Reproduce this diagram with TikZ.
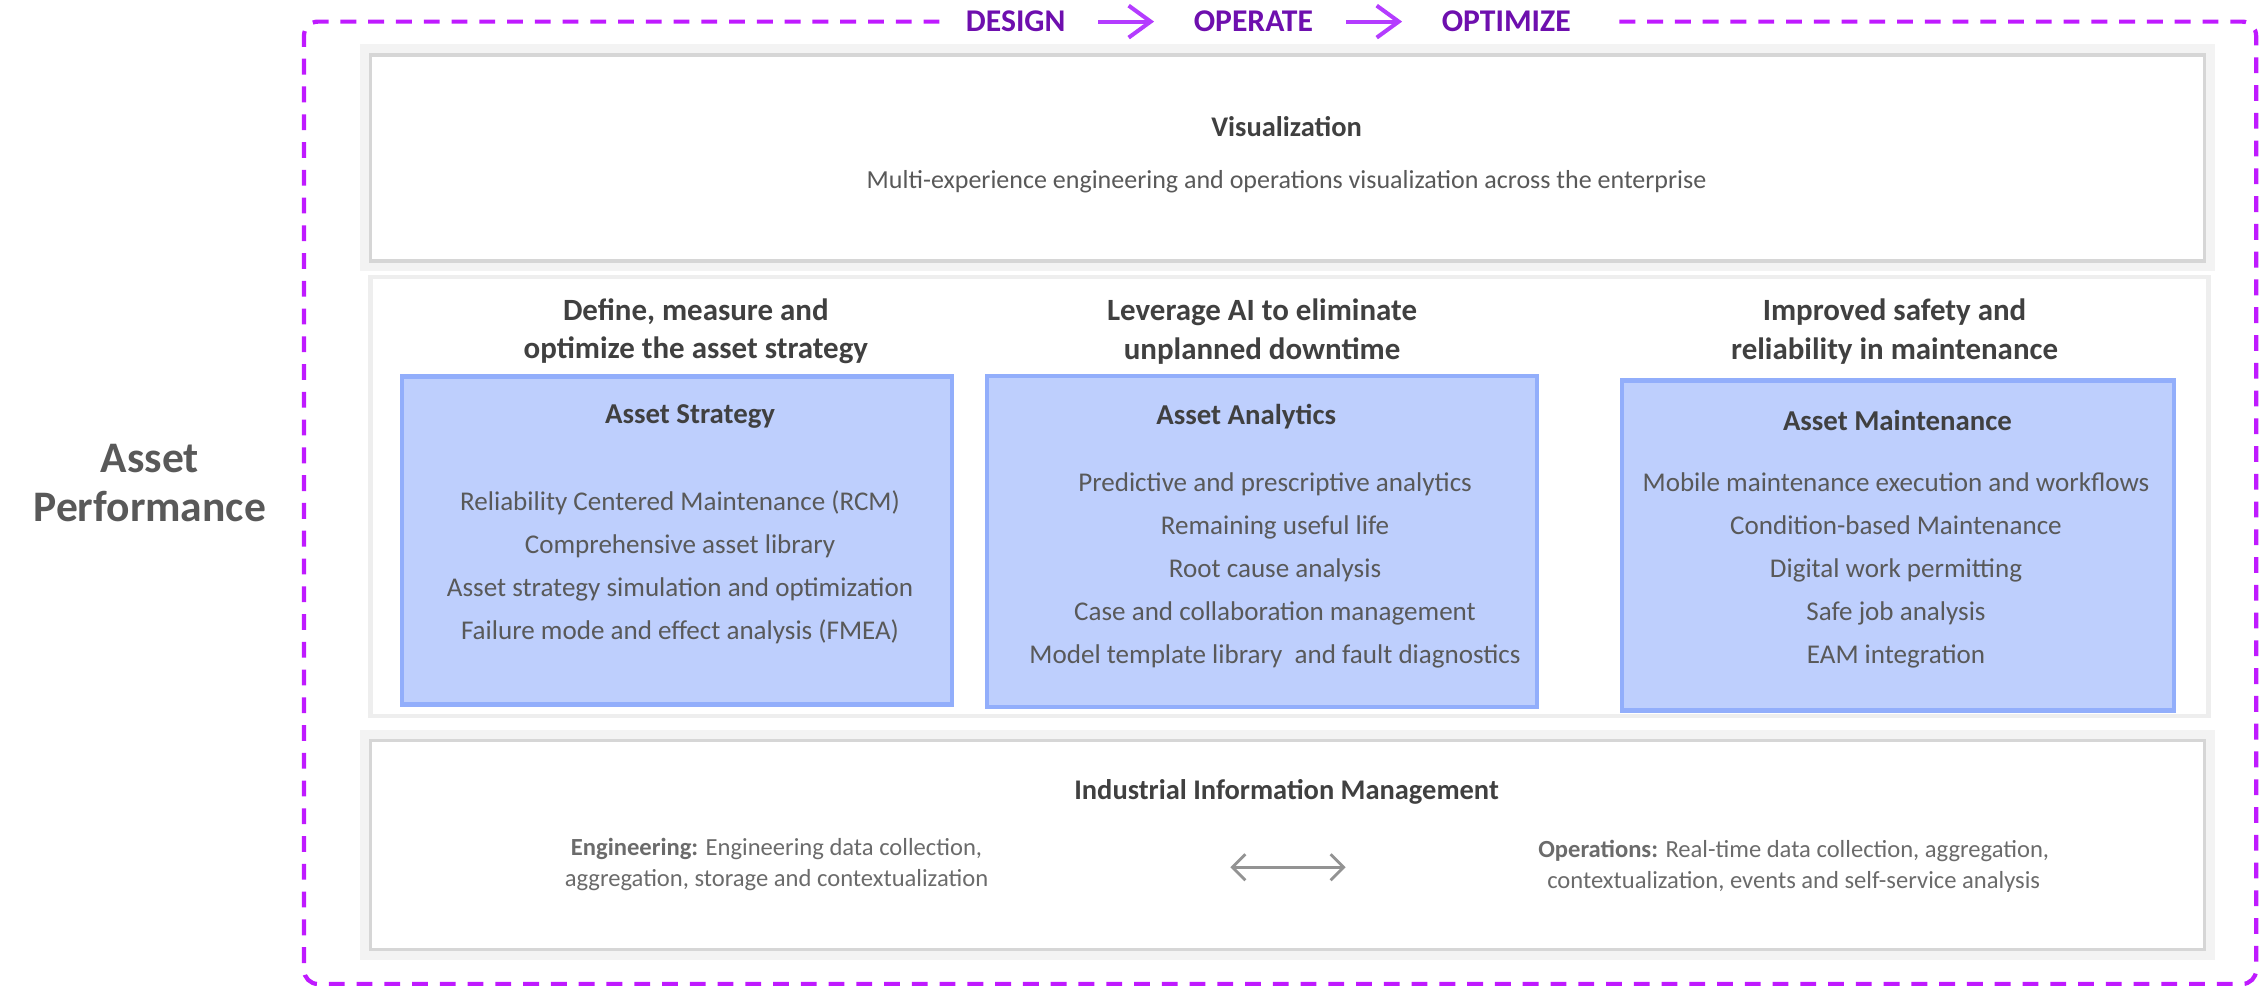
\documentclass[tikz,border=0pt]{standalone}
\usepackage{fontspec}
\setmainfont{Carlito}
\usetikzlibrary{arrows.meta}
\definecolor{framevio}{HTML}{BF1AFF}
\definecolor{flowtext}{HTML}{6E0FAE}
\definecolor{flowarr}{HTML}{B43CFF}
\definecolor{boxgray}{HTML}{D6D6D6}
\definecolor{glowgray}{HTML}{F3F3F3}
\definecolor{panelgray}{HTML}{EEEEEE}
\definecolor{bluefill}{HTML}{BECFFD}
\definecolor{blueline}{HTML}{92AEFB}
\definecolor{darktext}{HTML}{404040}
\definecolor{bodytext}{HTML}{595959}
\definecolor{softtext}{HTML}{6B6B6B}
\tikzset{>={Straight Barb[length=2.2mm,width=3.2mm]}}

\begin{document}
\begin{tikzpicture}[x=0.14407mm, y=-0.14407mm,
    frame/.style={draw=framevio, line width=1.2pt, dash pattern=on 4.5pt off 3.4pt, rounded corners=4pt},
    flow/.style={font=\fontsize{9}{10}\selectfont\bfseries, text=flowtext, inner sep=0pt},
    flowarrow/.style={->, draw=flowarr, line width=1.15pt, shorten <=3.2mm, shorten >=3.9mm},
    panel/.style={draw=boxgray, line width=1pt, fill=white, preaction={draw=glowgray, line width=6pt}},
    midpanel/.style={draw=panelgray, line width=1.2pt, fill=white},
    bluebox/.style={draw=blueline, line width=1.3pt, fill=bluefill},
    heading/.style={font=\fontsize{8.8}{11}\selectfont\bfseries, text=darktext, align=center, inner sep=0pt},
    boxtitle/.style={font=\fontsize{8.2}{10}\selectfont\bfseries, text=darktext, inner sep=0pt},
    items/.style={font=\fontsize{7.7}{12.25}\selectfont, text=bodytext, align=center, inner sep=0pt},
    iimtext/.style={font=\fontsize{7}{8.8}\selectfont, text=softtext, align=center, inner sep=0pt},
    iimarrow/.style={>={Straight Barb[length=1.3mm,width=2.6mm]}, <->, draw=gray!85, line width=0.8pt}]
    \useasboundingbox (0,0) rectangle (1568,683.7);

    % outer dashed frame, open at the top for the title
    \draw[frame] (652,15) -- (211,15) -- (211,683) -- (1566,683) -- (1566,15) -- (1117,15);
    \node[flow] (design) at (705,15) {DESIGN};
    \node[flow] (operate) at (870,15) {OPERATE};
    \node[flow] (optimize) at (1045.5,15) {OPTIMIZE};
    \draw[flowarrow] (design) -- (operate);
    \draw[flowarrow] (operate) -- (optimize);

    \node[font=\fontsize{12.4}{13.9}\selectfont\bfseries, text=bodytext, align=center, inner sep=0pt]
        (ap) at (104,335) {Asset\\Performance};

    % top layer
    \node[panel, minimum width=183.4mm, minimum height=20.6mm] (vis) at (893.5,109.5) {};
    \node[font=\fontsize{8.1}{10}\selectfont\bfseries, text=darktext, inner sep=0pt] (vistitle) at (893,88) {Visualization};
    \node[font=\fontsize{7.4}{8}\selectfont, text=bodytext, inner sep=0pt] (vissub) at (893,126)
        {Multi-experience engineering and operations visualization across the enterprise};

    % middle layer
    \node[midpanel, minimum width=183.8mm, minimum height=43.9mm] (mid) at (895,344.5) {};
    \node[heading] (h1) at (483,230) {Define, measure and\\optimize the asset strategy};
    \node[heading] (h2) at (876,230) {Leverage AI to eliminate\\unplanned downtime};
    \node[heading] (h3) at (1315,230) {Improved safety and\\reliability in maintenance};

    \node[bluebox, minimum width=55mm, minimum height=32.8mm] (strat) at (470,375) {};
    \node[bluebox, minimum width=55mm, minimum height=33.1mm] (ana) at (876,376) {};
    \node[bluebox, minimum width=55.2mm, minimum height=33mm] (maint) at (1317.5,378.5) {};

    \node[boxtitle] (strattitle) at (479,289) {Asset Strategy};
    \node[boxtitle] (anatitle) at (865,289) {Asset Analytics};
    \node[boxtitle] (mainttitle) at (1317,292) {Asset Maintenance};

    \node[items] (stratlist) at (472,394) {Reliability Centered Maintenance (RCM)\\
        Comprehensive asset library\\Asset strategy simulation and optimization\\
        Failure mode and effect analysis (FMEA)};
    \node[items] (analist) at (885,396) {Predictive and prescriptive analytics\\
        Remaining useful life\\Root cause analysis\\Case and collaboration management\\
        Model template library~ and fault diagnostics};
    \node[items] (maintlist) at (1316,396) {Mobile maintenance execution and workflows\\
        Condition-based Maintenance\\Digital work permitting\\Safe job analysis\\EAM integration};

    % bottom layer
    \node[panel, minimum width=183.4mm, minimum height=20.9mm] (iim) at (893.5,586.5) {};
    \node[font=\fontsize{8.1}{10}\selectfont\bfseries, text=darktext, inner sep=0pt] (iimtitle) at (893,550)
        {Industrial Information Management};
    \node[iimtext] (eng) at (539,600) {\textbf{Engineering:} Engineering data collection,\\
        aggregation, storage and contextualization};
    \node[iimtext] (ops) at (1245,601) {\textbf{Operations:} Real-time data collection, aggregation,\\
        contextualization, events and self-service analysis};
    \coordinate (al) at (854,602);
    \coordinate (ar) at (934,602);
    \draw[iimarrow] (al) -- (ar);
\end{tikzpicture}
\end{document}
